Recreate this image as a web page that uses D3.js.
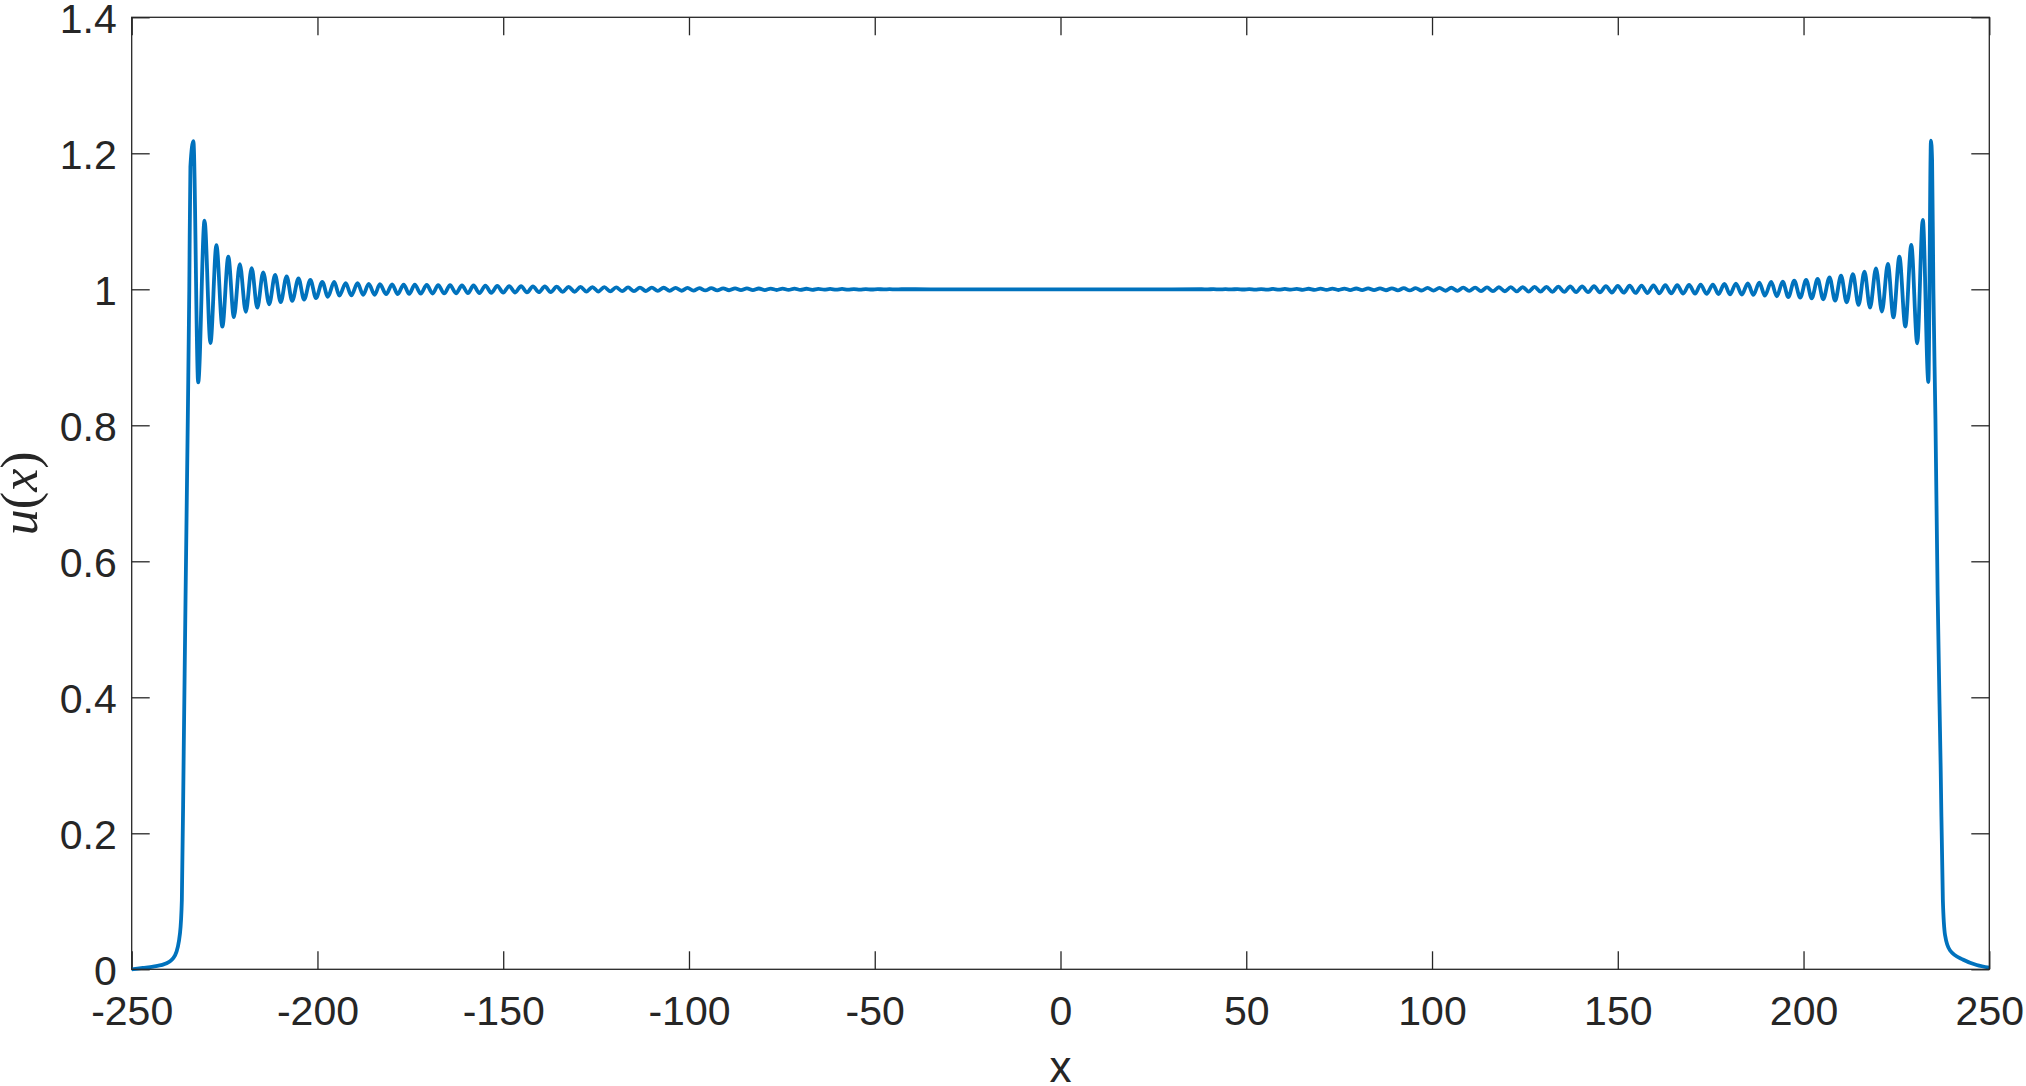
<!DOCTYPE html>
<html>
<head>
<meta charset="utf-8">
<script src="https://cdn.jsdelivr.net/npm/d3@7"></script>
<style>
  body { margin: 0; background: #fff; }
  svg { display: block; }
</style>
</head>
<body>
<div id="chart"></div>
<script>
// tick values
const xTicks = [-250, -200, -150, -100, -50, 0, 50, 100, 150, 200, 250];
const yTicks = [0, 0.2, 0.4, 0.6, 0.8, 1, 1.2, 1.4];

// left front: tail and steep rise
const leftFrontX = [-250, -247, -244.2, -240.6, -238.3, -237.0, -236.5, -236.0, -235.5, -234.9, -234.5, -234.2];
const leftFrontU = [0, 0.002, 0.004, 0.0088, 0.021, 0.053, 0.102, 0.32, 0.55, 0.81, 1.0, 1.18];

// left ripples (peaks and troughs)
const leftRippleX = [
  -233.4, -232.1, -230.4, -228.8, -227.2, -225.6, -224.0, -222.5, -220.9, -219.3,
  -217.7, -216.2, -214.6, -213.0, -211.4, -209.9, -208.3, -206.8, -205.1, -203.6,
  -201.9, -200.4, -198.7, -197.2, -195.5, -194.1, -192.4, -190.9, -189.2, -187.7,
  -186.2, -184.6, -183.2, -181.5, -179.9, -178.4, -176.8, -175.3, -173.8, -172.2,
  -170.6, -169.0, -167.5, -165.9, -164.3, -162.7, -161.1, -159.5, -158.0, -156.4,
  -154.8, -153.2, -151.6, -150.0, -148.4, -146.8, -145.2, -143.6, -142.0, -140.4,
  -138.8, -137.2, -135.6, -134.0, -132.4, -130.8, -129.2, -127.6, -126.0, -124.4,
  -122.8, -121.2, -119.6, -118.0, -116.4, -114.8, -113.2, -111.6, -110.0, -108.4,
  -106.8, -105.2, -103.6, -102.0, -100.4, -98.8, -97.2, -95.6, -94.0, -92.4,
  -90.8, -89.2, -87.6, -86.0, -84.4, -82.8, -81.2, -79.6, -78.0, -76.4,
  -74.8, -73.2, -71.6, -70.0, -68.4, -66.8, -65.2, -63.6, -62.0, -60.4,
  -58.8, -57.2, -55.6, -54.0, -52.4, -50.8, -49.2, -47.6, -46.0, -44.4,
  -42.8
];
const leftRippleU = [
  1.218, 0.863, 1.101, 0.921, 1.065, 0.945, 1.048, 0.959, 1.037, 0.967,
  1.031, 0.973, 1.025, 0.978, 1.021, 0.981, 1.019, 0.983, 1.016, 0.985,
  1.014, 0.987, 1.011, 0.989, 1.011, 0.9907, 1.009, 0.991, 1.009, 0.992,
  1.008, 0.992, 1.0075, 0.9928, 1.0072, 0.9930, 1.0070, 0.9932, 1.0067, 0.9935,
  1.0064, 0.9937, 1.0062, 0.9939, 1.0060, 0.9941, 1.0058, 0.9943, 1.0056, 0.9945,
  1.0053, 0.9948, 1.0050, 0.9951, 1.0048, 0.9953, 1.0046, 0.9955, 1.0043, 0.9958,
  1.0041, 0.9960, 1.0039, 0.9962, 1.0037, 0.9964, 1.0035, 0.9966, 1.0033, 0.9968,
  1.0031, 0.9970, 1.0029, 0.9972, 1.0028, 0.9973, 1.0026, 0.9975, 1.0025, 0.9976,
  1.0023, 0.9978, 1.0022, 0.9979, 1.0020, 0.9981, 1.0018, 0.9983, 1.0017, 0.9984,
  1.0015, 0.9986, 1.0014, 0.9987, 1.0013, 0.9988, 1.0012, 0.9989, 1.0011, 0.9990,
  1.0010, 0.9991, 1.0009, 0.9992, 1.0008, 0.9993, 1.0007, 0.9994, 1.0006, 0.9995,
  1.0005, 0.9995, 1.0004, 0.9996, 1.0003, 0.9997, 1.0003, 0.9998, 1.0002, 0.9998,
  1.0001
];

// flat middle
const plateauX = [-35, 0, 30];
const plateauU = [1.0, 1.0, 1.0];

// right ripples
const rightRippleX = [
  38.0, 39.6, 41.2, 42.8, 44.4, 46.0, 47.6, 49.2, 50.8, 52.4,
  54.0, 55.6, 57.2, 58.8, 60.4, 62.0, 63.6, 65.2, 66.8, 68.4,
  70.0, 71.6, 73.2, 74.8, 76.4, 78.0, 79.6, 81.2, 82.8, 84.4,
  86.0, 87.6, 89.2, 90.8, 92.4, 94.0, 95.6, 97.2, 98.8, 100.4,
  102.0, 103.6, 105.2, 106.8, 108.4, 110.0, 111.6, 113.2, 114.8, 116.4,
  118.0, 119.6, 121.2, 122.8, 124.4, 126.0, 127.6, 129.2, 130.8, 132.4,
  134.0, 135.6, 137.2, 138.8, 140.4, 142.0, 143.6, 145.2, 146.8, 148.4,
  150.0, 151.6, 153.2, 154.8, 156.4, 158.0, 159.6, 161.2, 162.8, 164.4,
  166.0, 167.6, 169.2, 170.8, 172.3, 173.9, 175.6, 177.1, 178.7, 180.2,
  181.8, 183.4, 185.0, 186.5, 188.1, 189.6, 191.3, 192.8, 194.4, 195.9,
  197.5, 199.1, 200.7, 202.2, 203.8, 205.3, 207.0, 208.5, 210.1, 211.6,
  213.3, 214.8, 216.4, 217.9, 219.5, 221.1, 222.7, 224.2, 225.8, 227.4,
  229.0, 230.6, 232.1, 233.6
];
const rightRippleU = [
  1.0001, 0.9999, 1.0002, 0.9998, 1.0002, 0.9998, 1.0003, 0.9997, 1.0003, 0.9996,
  1.0004, 0.9996, 1.0005, 0.9995, 1.0006, 0.9994, 1.0007, 0.9993, 1.0008, 0.9992,
  1.0009, 0.9991, 1.0010, 0.9990, 1.0011, 0.9989, 1.0012, 0.9988, 1.0013, 0.9987,
  1.0014, 0.9986, 1.0015, 0.9985, 1.0017, 0.9983, 1.0018, 0.9982, 1.0020, 0.9980,
  1.0021, 0.9979, 1.0023, 0.9977, 1.0025, 0.9976, 1.0026, 0.9974, 1.0028, 0.9972,
  1.0030, 0.9971, 1.0031, 0.9969, 1.0033, 0.9967, 1.0035, 0.9965, 1.0037, 0.9963,
  1.0039, 0.9961, 1.0041, 0.9959, 1.0043, 0.9957, 1.0045, 0.9954, 1.0047, 0.9952,
  1.0050, 0.9950, 1.0052, 0.9947, 1.0055, 0.9945, 1.0057, 0.9942, 1.0060, 0.9940,
  1.0062, 0.9937, 1.0065, 0.9935, 1.0067, 0.9933, 1.0070, 0.9931, 1.0078, 0.9926,
  1.0083, 0.9922, 1.0088, 0.9917, 1.0098, 0.9907, 1.0108, 0.9897, 1.0113, 0.9887,
  1.0127, 0.9877, 1.0137, 0.9868, 1.0152, 0.9853, 1.0176, 0.9833, 1.0201, 0.9809,
  1.0221, 0.9770, 1.0260, 0.9730, 1.0309, 0.9672, 1.0373, 0.9588, 1.0480, 0.9451,
  1.0652, 0.9206, 1.1020, 0.8637, 1.2186
];

// right front: steep drop and tail
const rightFrontX = [234.3, 234.6, 234.95, 235.5, 236.1, 236.9, 237.5, 238.1, 239.4, 243.0, 246.6, 250];
const rightFrontU = [1.19, 1.0, 0.81, 0.55, 0.30, 0.102, 0.05, 0.028, 0.014, 0.0063, 0.0024, 0];

const width = 2026;
const height = 1086;
const margin = {top: 17.3, right: 36.7, bottom: 116.7, left: 131.7};
const tickLen = 18;
const axisColor = "#262626";
const lineColor = "#0072BD";

// join the pieces into one profile
const xs = [].concat(leftFrontX, leftRippleX, plateauX, rightRippleX, rightFrontX);
const us = [].concat(leftFrontU, leftRippleU, plateauU, rightRippleU, rightFrontU);
const profile = xs.map((x, i) => ({x: x, u: us[i]}));

const svg = d3.select("#chart").append("svg")
  .attr("width", width)
  .attr("height", height)
  .attr("viewBox", [0, 0, width, height]);

const x = d3.scaleLinear([-250, 250], [margin.left, width - margin.right]);
const y = d3.scaleLinear([0, 1.4], [height - margin.bottom, margin.top]);

const tickFont = "'Liberation Sans', Arial, Helvetica, sans-serif";

// bottom axis
const xAxis = svg.append("g")
  .attr("transform", `translate(0,${y(0)})`)
  .call(d3.axisBottom(x).tickValues(xTicks).tickSizeInner(-tickLen).tickSizeOuter(0)
    .tickPadding(26.5).tickFormat(d => String(d)));

// top axis (ticks only)
const xAxisTop = svg.append("g")
  .attr("transform", `translate(0,${y(1.4)})`)
  .call(d3.axisTop(x).tickValues(xTicks).tickSizeInner(-tickLen).tickSizeOuter(0).tickFormat(""));

// left axis
const yAxis = svg.append("g")
  .attr("transform", `translate(${x(-250)},0)`)
  .call(d3.axisLeft(y).tickValues(yTicks).tickSizeInner(-tickLen).tickSizeOuter(0)
    .tickPadding(15).tickFormat(d => String(+d.toFixed(1))));

// right axis (ticks only)
const yAxisRight = svg.append("g")
  .attr("transform", `translate(${x(250)},0)`)
  .call(d3.axisRight(y).tickValues(yTicks).tickSizeInner(-tickLen).tickSizeOuter(0).tickFormat(""));

[xAxis, xAxisTop, yAxis, yAxisRight].forEach(g => {
  g.select(".domain").remove();
  g.selectAll(".tick line").attr("stroke", axisColor).attr("stroke-width", 1.3);
  g.selectAll(".tick text")
    .attr("fill", axisColor)
    .attr("font-family", tickFont)
    .attr("font-size", 41);
});
yAxis.selectAll(".tick text").attr("dy", "0.37em");

// the curve
const line = d3.line()
  .x(d => x(d.x))
  .y(d => y(d.u))
  .curve(d3.curveMonotoneX);

svg.append("path")
  .datum(profile)
  .attr("fill", "none")
  .attr("stroke", lineColor)
  .attr("stroke-width", 3.8)
  .attr("stroke-linejoin", "round")
  .attr("d", line);

// box round the plot
svg.append("rect")
  .attr("x", x(-250))
  .attr("y", y(1.4))
  .attr("width", x(250) - x(-250))
  .attr("height", y(0) - y(1.4))
  .attr("fill", "none")
  .attr("stroke", axisColor)
  .attr("stroke-width", 1.3);

// x label
svg.append("text")
  .attr("x", (x(-250) + x(250)) / 2)
  .attr("y", 1082)
  .attr("text-anchor", "middle")
  .attr("font-family", tickFont)
  .attr("font-size", 44)
  .attr("fill", axisColor)
  .text("x");

// y label, italic like the LaTeX one
const yLabel = svg.append("text")
  .attr("transform", `translate(37,${(y(0) + y(1.4)) / 2}) rotate(-90)`)
  .attr("text-anchor", "middle")
  .attr("font-family", "'Liberation Serif', 'Times New Roman', serif")
  .attr("font-size", 52)
  .attr("fill", axisColor);
yLabel.append("tspan").attr("font-style", "italic").text("u");
yLabel.append("tspan").text("(");
yLabel.append("tspan").attr("font-style", "italic").text("x");
yLabel.append("tspan").text(")");
</script>
</body>
</html>
